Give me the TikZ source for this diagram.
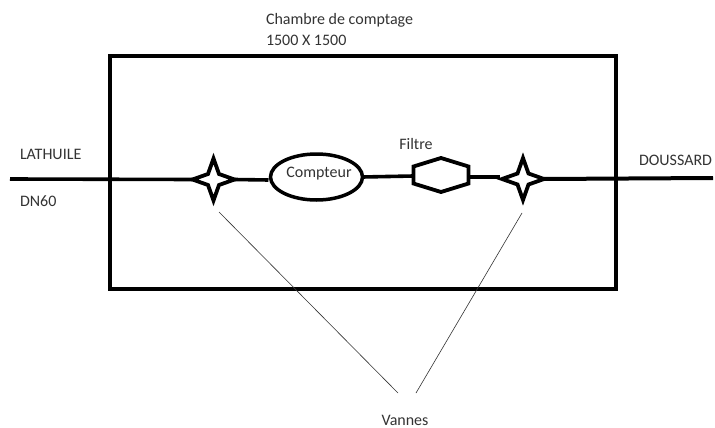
\documentclass[tikz,border=0pt]{standalone}
\usepackage{fontspec}
\setmainfont{Carlito}
\usetikzlibrary{shapes.geometric}
\definecolor{labelgrey}{gray}{0.2}
\tikzset{
  x=1pt,y=-1pt,
  pipe/.style={line width=3.6pt,black},
  lead/.style={line width=0.6pt,black!80},
  lbl/.style={font=\fontsize{16}{19}\selectfont,text=labelgrey,inner sep=0pt,outer sep=0pt},
  vanne/.style={star,star points=4,star point ratio=2.7,minimum size=42pt,inner sep=0pt,outer sep=0pt,draw,line width=3.8pt,fill=white},
  hexa/.style={regular polygon,regular polygon sides=6,shape border rotate=30,minimum size=34pt,inner sep=0pt,outer sep=0pt,draw,line width=3.8pt,xscale=1.87,transform shape},
}
\begin{document}
\begin{tikzpicture}
\useasboundingbox (0,0) rectangle (715,428);
\fill[white] (0,0) rectangle (715,428);
\node[draw,line width=3.2pt,minimum width=506pt,minimum height=233pt,inner sep=0pt,outer sep=0pt] (chambre) at (363,172.5) {};
\coordinate (entree) at (10,179);
\coordinate (sortie) at (713,178);
\node[vanne] (v1) at (213.5,179.5) {};
\node[vanne] (v2) at (523,179) {};
\node[draw,ellipse,line width=3.5pt,minimum width=92pt,minimum height=46pt,inner sep=0pt,outer sep=0pt] (compteur) at (316.5,177) {};
\node[lbl] at (319,174) {Compteur};
\node[hexa] (filtre) at (441,175) {};
\draw[pipe] (entree) -- (v1.west);
\draw[pipe] (v1.east) -- ([xshift=-2pt,yshift=-3pt]compteur.west);
\draw[pipe] (compteur.east) -- ([yshift=-1pt]filtre.west);
\draw[pipe] ([yshift=-2pt]filtre.east) -- ([xshift=-2pt,yshift=2pt]v2.west);
\draw[pipe,line width=4pt] (v2.east) -- (sortie);
\node[lbl,anchor=west] at (266,20) {Chambre de comptage};
\node[lbl,anchor=west] at (266,40) {1500 X 1500};
\node[lbl,anchor=west] (lathuile) at (20,154) {LATHUILE};
\node[lbl,anchor=west] (dn) at (20,201) {DN60};
\node[lbl,anchor=west] (doussard) at (639,160) {DOUSSARD};
\node[lbl] (lfiltre) at (416,144) {Filtre};
\node[lbl] (vannes) at (405,420) {Vannes};
\coordinate (a1) at (219,212);
\coordinate (a2) at (398,393);
\coordinate (b1) at (522,213);
\coordinate (b2) at (416,393);
\draw[lead] (a1) -- (a2);
\draw[lead] (b1) -- (b2);
\end{tikzpicture}
\end{document}
